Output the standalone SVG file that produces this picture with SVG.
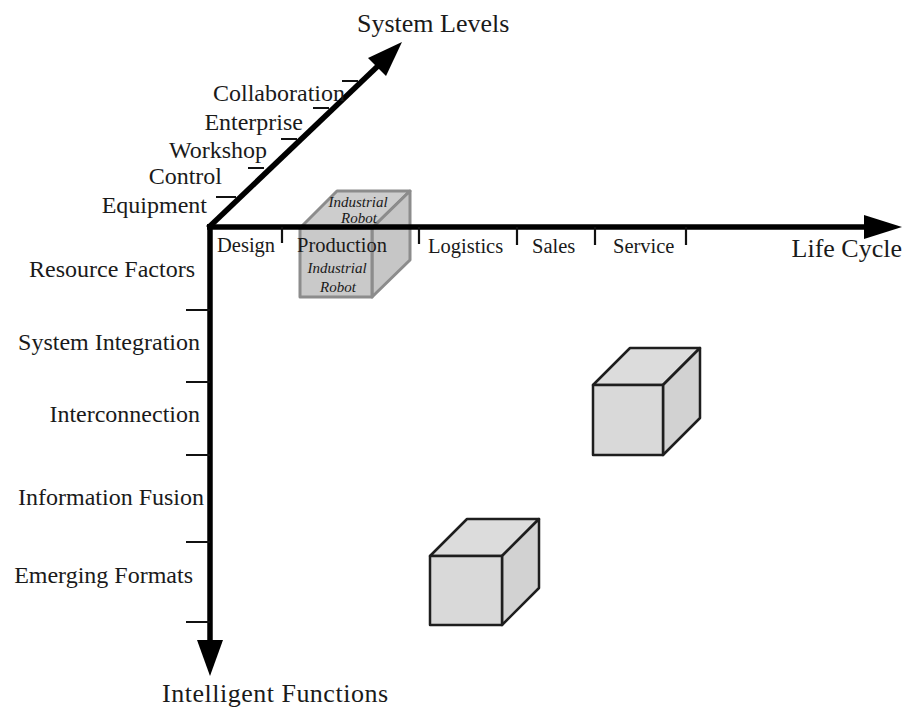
<svg xmlns="http://www.w3.org/2000/svg" width="906" height="711" viewBox="0 0 906 711">
<style>
text{font-family:"Liberation Serif","Times New Roman",serif;fill:#1a1a1a}
.lbl{font-size:24px}
.ax{font-size:26px}
.lc{font-size:20.5px}
.ir{font-size:15px;font-style:italic;text-anchor:middle}
.axis{stroke:#000;stroke-width:5.5;fill:none}
.tick{stroke:#111;stroke-width:2.2;fill:none}
.cube{stroke:#1e1e1e;stroke-width:2.5;stroke-linejoin:round}
.ghost{stroke:#8c8c8c;stroke-width:3;stroke-linejoin:round}
</style>
<rect width="906" height="711" fill="#fff"/>

<g id="cube-robot">
  <polygon class="ghost" points="300,228 337,191 410,191 372,228" fill="#cdcdcd"/>
  <polygon class="ghost" points="372,228 410,191 410,260 372,297" fill="#c6c6c6"/>
  <rect class="ghost" x="300" y="228" width="72" height="69" fill="#c9c9c9"/>
</g>

<g id="connectors">
  <line class="axis" x1="207" y1="227" x2="868" y2="227"/>
  <polygon points="902,227 864,215 864,239" fill="#000"/>
  <line class="axis" x1="210" y1="224" x2="210" y2="645"/>
  <polygon points="210,676 197,640 223,640" fill="#000"/>
  <line class="axis" x1="208" y1="228" x2="380" y2="64"/>
  <polygon points="402,42 368,58 386,76" fill="#000"/>
  <!-- diagonal ticks -->
  <path class="tick" d="M216,197 H236 M248,168 H264 M281,139 H297 M313,108 H329 M342,81 H358"/>
  <!-- horizontal ticks -->
  <path class="tick" d="M282,227 V243 M419,227 V244 M517,227 V245 M595,227 V245 M686,227 V245"/>
  <!-- vertical ticks -->
  <path class="tick" d="M186,310 H210 M186,382 H210 M186,455 H210 M186,542 H210 M186,622 H210"/>
</g>

<g id="robot-labels">
  <text class="ir" x="358" y="207">Industrial</text>
  <text class="ir" x="359" y="223">Robot</text>
  <text class="ir" x="337" y="273">Industrial</text>
  <text class="ir" x="338" y="292">Robot</text>
</g>

<g id="cube-service">
  <polygon class="cube" points="593,385 630,348 700,348 663,385" fill="#dcdcdc"/>
  <polygon class="cube" points="663,385 700,348 700,418 663,455" fill="#d2d2d2"/>
  <rect class="cube" x="593" y="385" width="70" height="70" fill="#d9d9d9"/>
</g>

<g id="cube-emerging">
  <polygon class="cube" points="430,556 467,519 539,519 502,556" fill="#dcdcdc"/>
  <polygon class="cube" points="502,556 539,519 539,588 502,625" fill="#d2d2d2"/>
  <rect class="cube" x="430" y="556" width="72" height="69" fill="#d9d9d9"/>
</g>

<g id="axis-titles">
  <text class="ax" x="357" y="32">System Levels</text>
  <text class="ax" x="902" y="257" text-anchor="end">Life Cycle</text>
  <text class="ax" x="162" y="702" textLength="226" lengthAdjust="spacing">Intelligent Functions</text>
</g>

<g id="system-levels">
  <text class="lbl" x="345" y="101" text-anchor="end">Collaboration</text>
  <text class="lbl" x="303" y="130" text-anchor="end">Enterprise</text>
  <text class="lbl" x="267" y="158" text-anchor="end">Workshop</text>
  <text class="lbl" x="222" y="184" text-anchor="end">Control</text>
  <text class="lbl" x="207" y="213" text-anchor="end">Equipment</text>
</g>

<g id="life-cycle">
  <text class="lc" x="217" y="252">Design</text>
  <text class="lc" x="297" y="252">Production</text>
  <text class="lc" x="428" y="253">Logistics</text>
  <text class="lc" x="532" y="253">Sales</text>
  <text class="lc" x="613" y="253">Service</text>
</g>

<g id="intelligent-functions">
  <text class="lbl" x="195" y="277" text-anchor="end">Resource Factors</text>
  <text class="lbl" x="200" y="350" text-anchor="end">System Integration</text>
  <text class="lbl" x="200" y="422" text-anchor="end">Interconnection</text>
  <text class="lbl" x="204" y="505" text-anchor="end">Information Fusion</text>
  <text class="lbl" x="193" y="583" text-anchor="end">Emerging Formats</text>
</g>
</svg>
